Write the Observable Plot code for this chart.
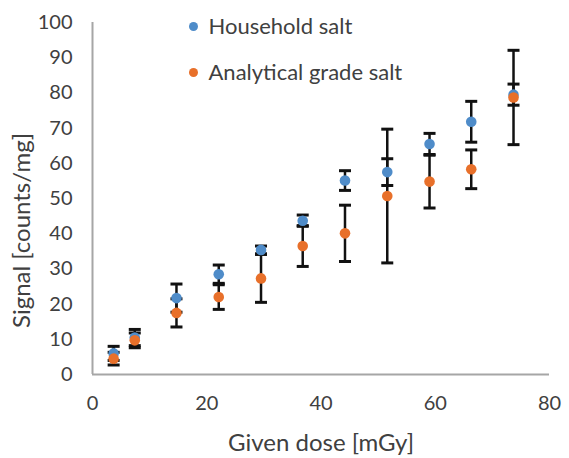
<!DOCTYPE html>
<html>
<head>
<meta charset="utf-8">
<script src="https://cdn.jsdelivr.net/npm/d3@7"></script>
<script src="https://cdn.jsdelivr.net/npm/@observablehq/plot@0.6"></script>
<style>
  html, body { margin: 0; padding: 0; background: #fff; }
  #chart { width: 569px; height: 458px; }
</style>
</head>
<body>
<div id="chart"></div>
<script>
const doses = [3.7, 7.4, 14.7, 22.1, 29.5, 36.8, 44.2, 51.6, 59.0, 66.3, 73.7];
const householdSignal = [6.0, 10.5, 21.7, 28.5, 35.4, 43.7, 55.1, 57.5, 65.5, 71.8, 79.5];
const householdError  = [2.0, 2.3, 4.0, 2.6, 1.1, 1.6, 2.8, 3.8, 3.0, 5.8, 3.0];
const analyticalSignal = [4.5, 9.7, 17.5, 22.0, 27.3, 36.5, 40.1, 50.7, 54.8, 58.3, 78.7];
const analyticalError  = [1.8, 2.1, 4.0, 3.5, 6.8, 5.8, 8.0, 19.0, 7.5, 5.5, 13.4];
const seriesNames = ["Household salt", "Analytical grade salt"];
const seriesColors = ["#4f8cc9", "#e8702a"];
const xTicks = [0, 20, 40, 60, 80];
const yTicks = [0, 10, 20, 30, 40, 50, 60, 70, 80, 90, 100];
const xLabel = "Given dose [mGy]";
const yLabel = "Signal [counts/mg]";

const rows = [];
doses.forEach((d, i) => {
  rows.push({series: seriesNames[0], dose: d, signal: householdSignal[i], err: householdError[i]});
});
doses.forEach((d, i) => {
  rows.push({series: seriesNames[1], dose: d, signal: analyticalSignal[i], err: analyticalError[i]});
});
const caps = rows.flatMap(r => [
  {dose: r.dose, y: r.signal - r.err},
  {dose: r.dose, y: r.signal + r.err}
]);

const capSymbol = {
  draw(context) {
    context.moveTo(-6, 0);
    context.lineTo(6, 0);
  }
};

const font = "Lato, 'Open Sans', sans-serif";
const gray = "#404040";

const chart = Plot.plot({
  width: 569,
  height: 458,
  marginLeft: 92,
  marginRight: 20,
  marginTop: 22,
  marginBottom: 84,
  style: {fontFamily: font, background: "#fff"},
  x: {domain: [0, 80], ticks: xTicks},
  y: {domain: [0, 100], ticks: yTicks},
  color: {domain: seriesNames, range: seriesColors},
  marks: [
    Plot.axisX({ticks: xTicks, tickSize: 0, tickPadding: 21, fontSize: 20, fill: gray, label: null}),
    Plot.axisY({ticks: yTicks, tickSize: 0, tickPadding: 20, fontSize: 20, fill: gray, label: null}),
    Plot.text([xLabel], {frameAnchor: "bottom", dy: 69, fontSize: 24, fill: gray, textAnchor: "middle", lineAnchor: "middle"}),
    Plot.text([yLabel], {frameAnchor: "left", dx: -70, dy: 32, rotate: -90, fontSize: 24, fill: gray, textAnchor: "middle", lineAnchor: "middle"}),
    Plot.ruleX([0], {stroke: "#a6a6a6", strokeWidth: 2}),
    Plot.ruleY([0], {stroke: "#a6a6a6", strokeWidth: 2}),
    Plot.ruleX(rows, {x: "dose", y1: d => d.signal - d.err, y2: d => d.signal + d.err, stroke: "#111", strokeWidth: 2.5}),
    Plot.dot(caps, {x: "dose", y: "y", symbol: capSymbol, stroke: "#111", strokeWidth: 3, fill: "none"}),
    Plot.dot(rows, {x: "dose", y: "signal", fill: "series", r: 5.3}),
    Plot.dot([seriesNames[0]], {frameAnchor: "top-left", dx: 101, dy: 4, fill: d => d, r: 4.5}),
    Plot.dot([seriesNames[1]], {frameAnchor: "top-left", dx: 101, dy: 50, fill: d => d, r: 4.5}),
    Plot.text([seriesNames[0]], {frameAnchor: "top-left", dx: 116, dy: 4, text: d => d, textAnchor: "start", lineAnchor: "middle", fontSize: 22, fill: gray}),
    Plot.text([seriesNames[1]], {frameAnchor: "top-left", dx: 116, dy: 50, text: d => d, textAnchor: "start", lineAnchor: "middle", fontSize: 22, fill: gray})
  ]
});
document.getElementById("chart").appendChild(chart);
</script>
</body>
</html>
